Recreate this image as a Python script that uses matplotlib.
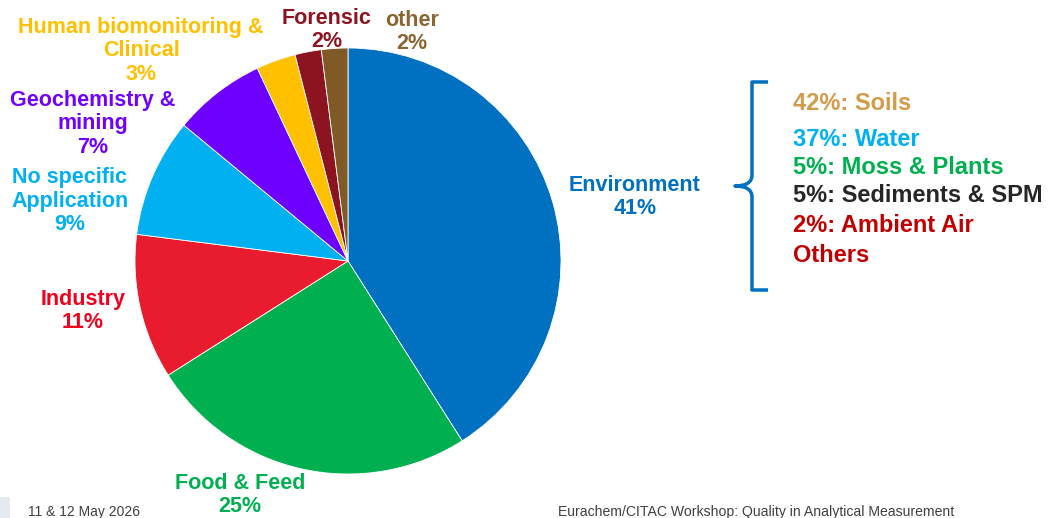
import matplotlib
matplotlib.use("Agg")
import matplotlib.pyplot as plt
from matplotlib.path import Path
from matplotlib.patches import PathPatch, Rectangle

plt.rcParams['font.family'] = ['Liberation Sans', 'DejaVu Sans']

# ---- data ----
categories = ["Environment", "Food & Feed", "Industry", "No specific\nApplication",
              "Geochemistry &\nmining", "Human biomonitoring &\nClinical", "Forensic", "other"]
shares = [41, 25, 11, 9, 7, 3, 2, 2]
slice_colors = ["#0070C0", "#00B050", "#E81C2E", "#00B0F0", "#6E00FF", "#FFC000", "#8C1420", "#7F5A26"]
label_colors = ["#0070C0", "#00B050", "#F0001C", "#00B0F0", "#7000FF", "#FFC000", "#8C1420", "#8A6530"]

env_sub_labels = ["42%: Soils", "37%: Water", "5%: Moss & Plants", "5%: Sediments & SPM",
                  "2%: Ambient Air", "Others"]
env_sub_colors = ["#D39B4A", "#00B0F0", "#00B050", "#262626", "#C00000", "#C00000"]

footer_left = "11 & 12 May 2026"
footer_right = "Eurachem/CITAC Workshop: Quality in Analytical Measurement"

# ---- layout (pixel coordinates) ----
W, H = 1053, 518
fig = plt.figure(figsize=(W / 100, H / 100), dpi=100)
ax = fig.add_axes([0, 0, 1, 1])

cx, cy, r = 348, 261, 213
# y axis is inverted below, so start at -90 and go counterclockwise in data terms
wedges, _ = ax.pie(shares, colors=slice_colors, startangle=-90, counterclock=True,
                   center=(cx, cy), radius=r, frame=True,
                   wedgeprops=dict(edgecolor='white', linewidth=0.6))
ax.set_xlim(0, W)
ax.set_ylim(H, 0)
ax.set_aspect('equal')
ax.axis('off')

label_pos = [(635, 197), (240, 495), (83, 311), (70, 201), (93, 124), (141, 51), (327, 30), (412, 32)]
for cat, val, col, (x, y) in zip(categories, shares, label_colors, label_pos):
    ax.text(x, y, f"{cat}\n{val}%", color=col, fontsize=15.5, fontweight='bold',
            ha='center', va='center', linespacing=1.16)

# bracket
verts = [(768, 82), (752, 82), (752, 82), (752, 100),
         (752, 175), (752, 186), (735, 186),
         (752, 186), (752, 197),
         (752, 272), (752, 290), (752, 290), (768, 290)]
codes = [Path.MOVETO, Path.LINETO, Path.CURVE3, Path.CURVE3,
         Path.LINETO, Path.CURVE3, Path.CURVE3,
         Path.CURVE3, Path.CURVE3,
         Path.LINETO, Path.CURVE3, Path.CURVE3, Path.LINETO]
ax.add_patch(PathPatch(Path(verts, codes), fill=False, edgecolor='#0070C0', linewidth=2.5,
                       capstyle='butt', joinstyle='round'))

sub_y = [103, 140, 167, 196, 226, 255]
for t, c, y in zip(env_sub_labels, env_sub_colors, sub_y):
    ax.text(793, y, t, color=c, fontsize=17, fontweight='bold', ha='left', va='center')

# footer
ax.add_patch(Rectangle((0, 497), 10, 21, facecolor='#E4E9F0', edgecolor='none'))
ax.text(28, 505, footer_left, color='#404040', fontsize=10, ha='left', va='top')
ax.text(558, 505, footer_right, color='#404040', fontsize=10.1, ha='left', va='top')

fig.savefig("out.png", dpi=100)
